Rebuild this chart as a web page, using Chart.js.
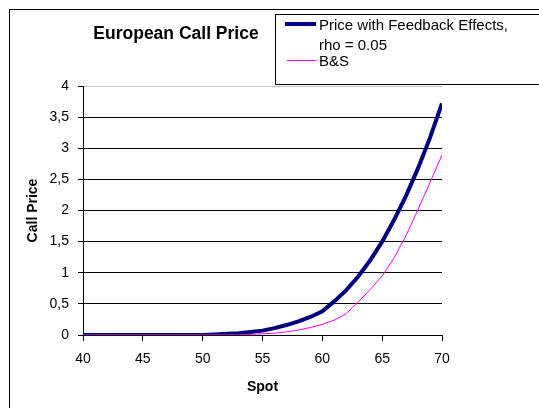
<!DOCTYPE html>
<html>
<head>
<meta charset="utf-8">
<script src="https://cdn.jsdelivr.net/npm/chart.js@4.4.0/dist/chart.umd.min.js"></script>
<style>
  html, body { margin: 0; padding: 0; background: #ffffff; }
  #wrap { width: 539px; height: 408px; }
</style>
</head>
<body>
<div id="wrap"><canvas id="c" width="539" height="408"></canvas></div>
<script>
// Spot grid and the two call price curves
const spot = [40, 41, 42, 43, 44, 45, 46, 47, 48, 49, 50,
              51, 52, 53, 54, 55, 56, 57, 58, 59, 60,
              61, 62, 63, 64, 65, 66, 67, 68, 69, 70];
const feedbackPrice = [0, 0, 0, 0, 0, 0, 0, 0, 0, 0, 0,
                       0.01, 0.02, 0.03, 0.05, 0.07, 0.11, 0.16, 0.22, 0.29, 0.38,
                       0.54, 0.72, 0.94, 1.2, 1.5, 1.85, 2.24, 2.68, 3.17, 3.72];
const bsPrice = [0, 0, 0, 0, 0, 0, 0, 0, 0, 0, 0,
                 0, 0, 0, 0.01, 0.02, 0.03, 0.05, 0.08, 0.12, 0.17,
                 0.24, 0.34, 0.53, 0.73, 0.95, 1.24, 1.6, 2.02, 2.45, 2.89];

const seriesNames = ['Price with Feedback Effects,\nrho = 0.05', 'B&S'];
const chartTitle = 'European Call Price';
const xTitle = 'Spot';
const yTitle = 'Call Price';
const xTickLabels = ['40', '45', '50', '55', '60', '65', '70'];
const yTickLabels = ['0', '0,5', '1', '1,5', '2', '2,5', '3', '3,5', '4'];

const FONT = "'Liberation Sans', Arial, sans-serif";
Chart.defaults.font.family = FONT;
Chart.defaults.color = '#000000';

const toPoints = (ys) => spot.map((x, i) => ({ x: x, y: ys[i] }));

// Outer frame, heading and the boxed key are painted by hand
const decorations = {
  id: 'decorations',
  beforeDraw(chart) {
    const ctx = chart.ctx;
    ctx.save();
    ctx.fillStyle = '#ffffff';
    ctx.fillRect(0, 0, chart.width, chart.height);
    ctx.strokeStyle = '#000000';
    ctx.lineWidth = 1;
    ctx.strokeRect(9.5, 9.5, 600, 500);
    ctx.restore();
  },
  afterDraw(chart) {
    const ctx = chart.ctx;
    const ds = chart.data.datasets;
    ctx.save();
    // heading
    ctx.fillStyle = '#000000';
    ctx.font = 'bold 17.5px ' + FONT;
    ctx.textAlign = 'center';
    ctx.textBaseline = 'alphabetic';
    ctx.fillText(chartTitle, 176, 39);

    // key box
    ctx.fillStyle = '#ffffff';
    ctx.fillRect(275.5, 14.5, 300, 70);
    ctx.strokeStyle = '#000000';
    ctx.lineWidth = 1;
    ctx.strokeRect(275.5, 14.5, 300, 70);

    // key entries
    ctx.lineCap = 'butt';
    ctx.strokeStyle = ds[0].borderColor;
    ctx.lineWidth = ds[0].borderWidth;
    ctx.beginPath(); ctx.moveTo(285, 24); ctx.lineTo(316, 24); ctx.stroke();
    ctx.strokeStyle = ds[1].borderColor;
    ctx.lineWidth = ds[1].borderWidth;
    ctx.beginPath(); ctx.moveTo(287, 60.5); ctx.lineTo(316, 60.5); ctx.stroke();

    ctx.fillStyle = '#000000';
    ctx.font = '15px ' + FONT;
    ctx.textAlign = 'left';
    const firstLines = ds[0].label.split('\n');
    ctx.fillText(firstLines[0], 319, 29.5);
    ctx.fillText(firstLines[1], 319, 50);
    ctx.fillText(ds[1].label, 319, 65.5);
    ctx.restore();
  }
};

new Chart(document.getElementById('c'), {
  type: 'line',
  data: {
    datasets: [
      {
        label: seriesNames[0],
        data: toPoints(feedbackPrice),
        borderColor: '#000080',
        borderWidth: 4,
        pointRadius: 0,
        tension: 0,
        fill: false,
        order: 1
      },
      {
        label: seriesNames[1],
        data: toPoints(bsPrice),
        borderColor: '#ff00ff',
        borderWidth: 1,
        pointRadius: 0,
        tension: 0,
        fill: false,
        order: 0
      }
    ]
  },
  options: {
    responsive: false,
    animation: false,
    devicePixelRatio: 1,
    layout: { padding: { left: 20.6, right: 97, top: 86, bottom: 8.6 } },
    plugins: {
      legend: { display: false },
      title: { display: false },
      tooltip: { enabled: false }
    },
    scales: {
      x: {
        type: 'linear',
        min: 40,
        max: 70,
        afterFit(scale) { scale.height = 64.4; },
        ticks: {
          stepSize: 5,
          padding: 10,
          maxRotation: 0,
          font: { size: 14 },
          color: '#000000',
          callback: (v, i) => xTickLabels[i]
        },
        grid: {
          drawOnChartArea: false,
          drawTicks: true,
          tickLength: 6,
          tickColor: '#000000'
        },
        border: { display: true, color: '#000000', width: 1 },
        title: {
          display: true,
          text: xTitle,
          font: { size: 14, weight: 'bold' },
          color: '#000000'
        }
      },
      y: {
        min: 0,
        max: 4,
        afterFit(scale) { scale.width = 62.4; },
        ticks: {
          stepSize: 0.5,
          padding: 9,
          font: { size: 14 },
          color: '#000000',
          callback: (v, i) => yTickLabels[i]
        },
        grid: {
          drawTicks: true,
          tickLength: 5,
          tickColor: '#000000',
          color: (c) => (c.tick && c.tick.value === 4 ? '#c0c0c0' : '#000000'),
          lineWidth: 1
        },
        border: { display: true, color: '#000000', width: 1 },
        title: {
          display: true,
          text: yTitle,
          font: { size: 14, weight: 'bold' },
          color: '#000000'
        }
      }
    }
  },
  plugins: [decorations]
});
</script>
</body>
</html>
